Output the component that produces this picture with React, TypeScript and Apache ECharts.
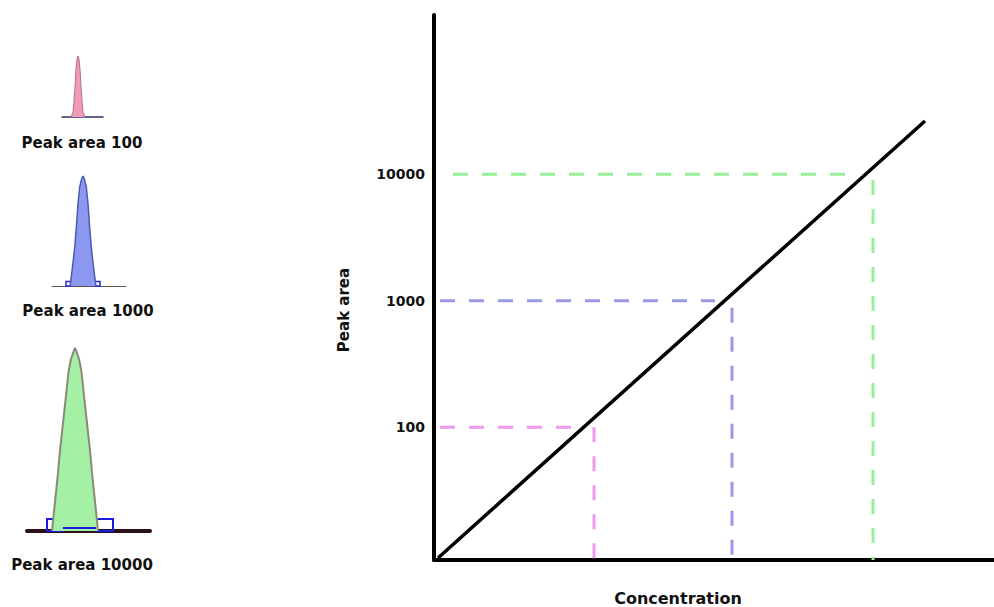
import React, { useEffect, useRef } from 'react';
import * as echarts from 'echarts';

// ---- main calibration chart data ----
const yAxisMin = 8.91;
const yAxisMax = 181130;
const levelValues = [100, 1000, 10000];
const levelLabels = ['100', '1000', '10000'];
const levelConcentration = [1.6, 2.98, 4.39];
const guideStartX = [0.06, 0.06, 0.19];
const guideEndX = [1.43, 2.81, 4.11];
const dropTopY = [100, 877, 9000];
const calibX = [0.04, 4.91];
const calibY = [9.25, 26300];

// ---- peak illustrations (relative retention time, relative height) ----
const peakLabels = ['Peak area 100', 'Peak area 1000', 'Peak area 10000'];
const peak1X = [-7, -5, -4, -3, -2, -1, 0, 1, 2, 3, 4, 5, 7];
const peak1Y = [0, 0.08, 0.25, 0.5, 0.78, 0.95, 1, 0.95, 0.78, 0.5, 0.25, 0.08, 0];
const peak2X = [-13, -12.5, -11.5, -10, -8.3, -6.7, -5, -3.3, -1.5, 0, 1.5, 3.3, 5, 6.7, 8.3, 10, 11.5, 12.5, 13];
const peak2Y = [0, 0.03, 0.1, 0.21, 0.35, 0.53, 0.75, 0.9, 0.97, 1, 0.97, 0.9, 0.75, 0.53, 0.35, 0.21, 0.1, 0.03, 0];
const peak3X = [-23, -22, -20, -17.5, -15, -12, -9, -6.5, -4, -1.5, 0, 1.5, 4, 6.5, 9, 12, 15, 17.5, 20, 22, 23];
const peak3Y = [0, 0.055, 0.16, 0.29, 0.44, 0.59, 0.74, 0.87, 0.94, 0.98, 1, 0.98, 0.94, 0.87, 0.74, 0.59, 0.44, 0.29, 0.16, 0.055, 0];
const peak2Feet = [[-17, -11], [11, 17]];
const peak2FeetTop = 0.04;
const peak3Feet = [[-28, -12], [21, 38]];
const peak3FeetTop = 0.066;
const peak3Bridge = [-12, 21, 0.016];

const FONT = 'DejaVu Sans';
const levelColors = ['#ee99ee', '#9999e8', '#99ee99'];

const miniGrids = [
  { left: 62, width: 41, top: 56, height: 61, xmin: -16, xmax: 25, axisColor: '#303060', axisWidth: 1.5 },
  { left: 52, width: 74, top: 176, height: 110, xmin: -31, xmax: 43, axisColor: '#555555', axisWidth: 1 },
  { left: 27, width: 123, top: 348, height: 183, xmin: -48, xmax: 75, axisColor: '#2a1018', axisWidth: 4 },
];
const peakStyles = [
  { fill: '#f29ab8', border: '#b07090', width: 1 },
  { fill: '#8c98f0', border: '#4a5ab0', width: 1.5 },
  { fill: '#a4f0a4', border: '#8a8a7a', width: 2 },
];
const labelPos = [
  { x: 82, y: 143 },
  { x: 88, y: 311 },
  { x: 82, y: 565 },
];

function zip(xs: number[], ys: number[]) {
  return xs.map((x, i) => [x, ys[i]]);
}

export default function App() {
  const ref = useRef<HTMLDivElement>(null);
  useEffect(() => {
    if (!ref.current) return;
    const chart = echarts.init(ref.current, undefined, { renderer: 'svg' });

    const grids: any[] = [{ left: 434, top: 15, right: 0, bottom: 47 }];
    const xAxes: any[] = [
      {
        type: 'value', gridIndex: 0, min: 0, max: 5.6,
        axisLine: { show: true, lineStyle: { color: '#000', width: 4 } },
        axisTick: { show: false }, axisLabel: { show: false }, splitLine: { show: false },
      },
    ];
    const yAxes: any[] = [
      {
        type: 'log', gridIndex: 0, logBase: 10, min: yAxisMin, max: yAxisMax,
        axisLine: { show: true, lineStyle: { color: '#000', width: 4 } },
        axisTick: { show: false }, splitLine: { show: false },
        axisLabel: {
          margin: 9,
          fontFamily: FONT, fontWeight: 'bold', fontSize: 14, color: '#111',
          formatter: (v: number) => {
            const i = levelValues.findIndex((lv) => Math.abs(lv - v) / lv < 1e-6);
            return i >= 0 ? levelLabels[i] : '';
          },
        },
      },
    ];

    const series: any[] = [];
    levelValues.forEach((lv, i) => {
      series.push({
        type: 'line', xAxisIndex: 0, yAxisIndex: 0, showSymbol: false, silent: true,
        data: [[guideStartX[i], lv], [guideEndX[i], lv]],
        lineStyle: { color: levelColors[i], width: 3, type: [15, 14] },
      });
      series.push({
        type: 'line', xAxisIndex: 0, yAxisIndex: 0, showSymbol: false, silent: true,
        data: [[levelConcentration[i], dropTopY[i]], [levelConcentration[i], yAxisMin]],
        lineStyle: { color: levelColors[i], width: 3, type: [15, 14] },
      });
    });
    series.push({
      type: 'line', xAxisIndex: 0, yAxisIndex: 0, showSymbol: false, silent: true,
      data: zip(calibX, calibY),
      lineStyle: { color: '#000', width: 3.5 },
    });

    const peaksX = [peak1X, peak2X, peak3X];
    const peaksY = [peak1Y, peak2Y, peak3Y];
    miniGrids.forEach((g, i) => {
      const gi = i + 1;
      grids.push({ left: g.left, width: g.width, top: g.top, height: g.height });
      xAxes.push({
        type: 'value', gridIndex: gi, min: g.xmin, max: g.xmax,
        axisLine: { show: true, onZero: false, lineStyle: { color: g.axisColor, width: g.axisWidth } },
        axisTick: { show: false }, axisLabel: { show: false }, splitLine: { show: false },
      });
      yAxes.push({ type: 'value', gridIndex: gi, min: 0, max: 1, show: false });
      const s: any = {
        type: 'line', xAxisIndex: gi, yAxisIndex: gi, showSymbol: false, silent: true,
        clip: false,
        data: zip(peaksX[i], peaksY[i]),
        lineStyle: { color: peakStyles[i].border, width: peakStyles[i].width },
        areaStyle: { color: peakStyles[i].fill, opacity: 1 },
        z: 3,
      };
      if (i === 1) {
        s.markArea = {
          silent: true,
          itemStyle: { color: 'rgba(0,0,0,0)', borderColor: '#2828c8', borderWidth: 1.5 },
          data: peak2Feet.map((f) => [{ coord: [f[0], 0] }, { coord: [f[1], peak2FeetTop] }]),
        };
      }
      if (i === 2) {
        s.markArea = {
          silent: true,
          itemStyle: { color: 'rgba(0,0,0,0)', borderColor: '#1a1ae0', borderWidth: 2 },
          data: peak3Feet.map((f) => [{ coord: [f[0], 0] }, { coord: [f[1], peak3FeetTop] }]),
        };
        s.markLine = {
          silent: true, symbol: 'none', label: { show: false },
          lineStyle: { color: '#1a1ae0', width: 2, type: 'solid' },
          data: [[{ coord: [peak3Bridge[0], peak3Bridge[2]] }, { coord: [peak3Bridge[1], peak3Bridge[2]] }]],
        };
      }
      series.push(s);
    });

    const graphic: any[] = peakLabels.map((t, i) => ({
      type: 'text', x: labelPos[i].x, y: labelPos[i].y,
      style: {
        text: t, fontFamily: FONT, fontWeight: 'bold', fontSize: 15, fill: '#111',
        textAlign: 'center', textVerticalAlign: 'middle',
      },
    }));
    graphic.push({
      type: 'text', x: 678, y: 598,
      style: {
        text: 'Concentration', fontFamily: FONT, fontWeight: 'bold', fontSize: 16, fill: '#111',
        textAlign: 'center', textVerticalAlign: 'middle',
      },
    });
    graphic.push({
      type: 'text', x: 344, y: 310, rotation: Math.PI / 2,
      style: {
        text: 'Peak area', fontFamily: FONT, fontWeight: 'bold', fontSize: 15, fill: '#111',
        textAlign: 'center', textVerticalAlign: 'middle',
      },
    });

    chart.setOption({
      animation: false,
      backgroundColor: '#ffffff',
      grid: grids,
      xAxis: xAxes,
      yAxis: yAxes,
      series,
      graphic,
    });
    return () => chart.dispose();
  }, []);
  return (
    <div
      ref={ref}
      style={{ position: 'fixed', left: 0, top: 0, width: 994, height: 607, background: '#fff' }}
    />
  );
}
